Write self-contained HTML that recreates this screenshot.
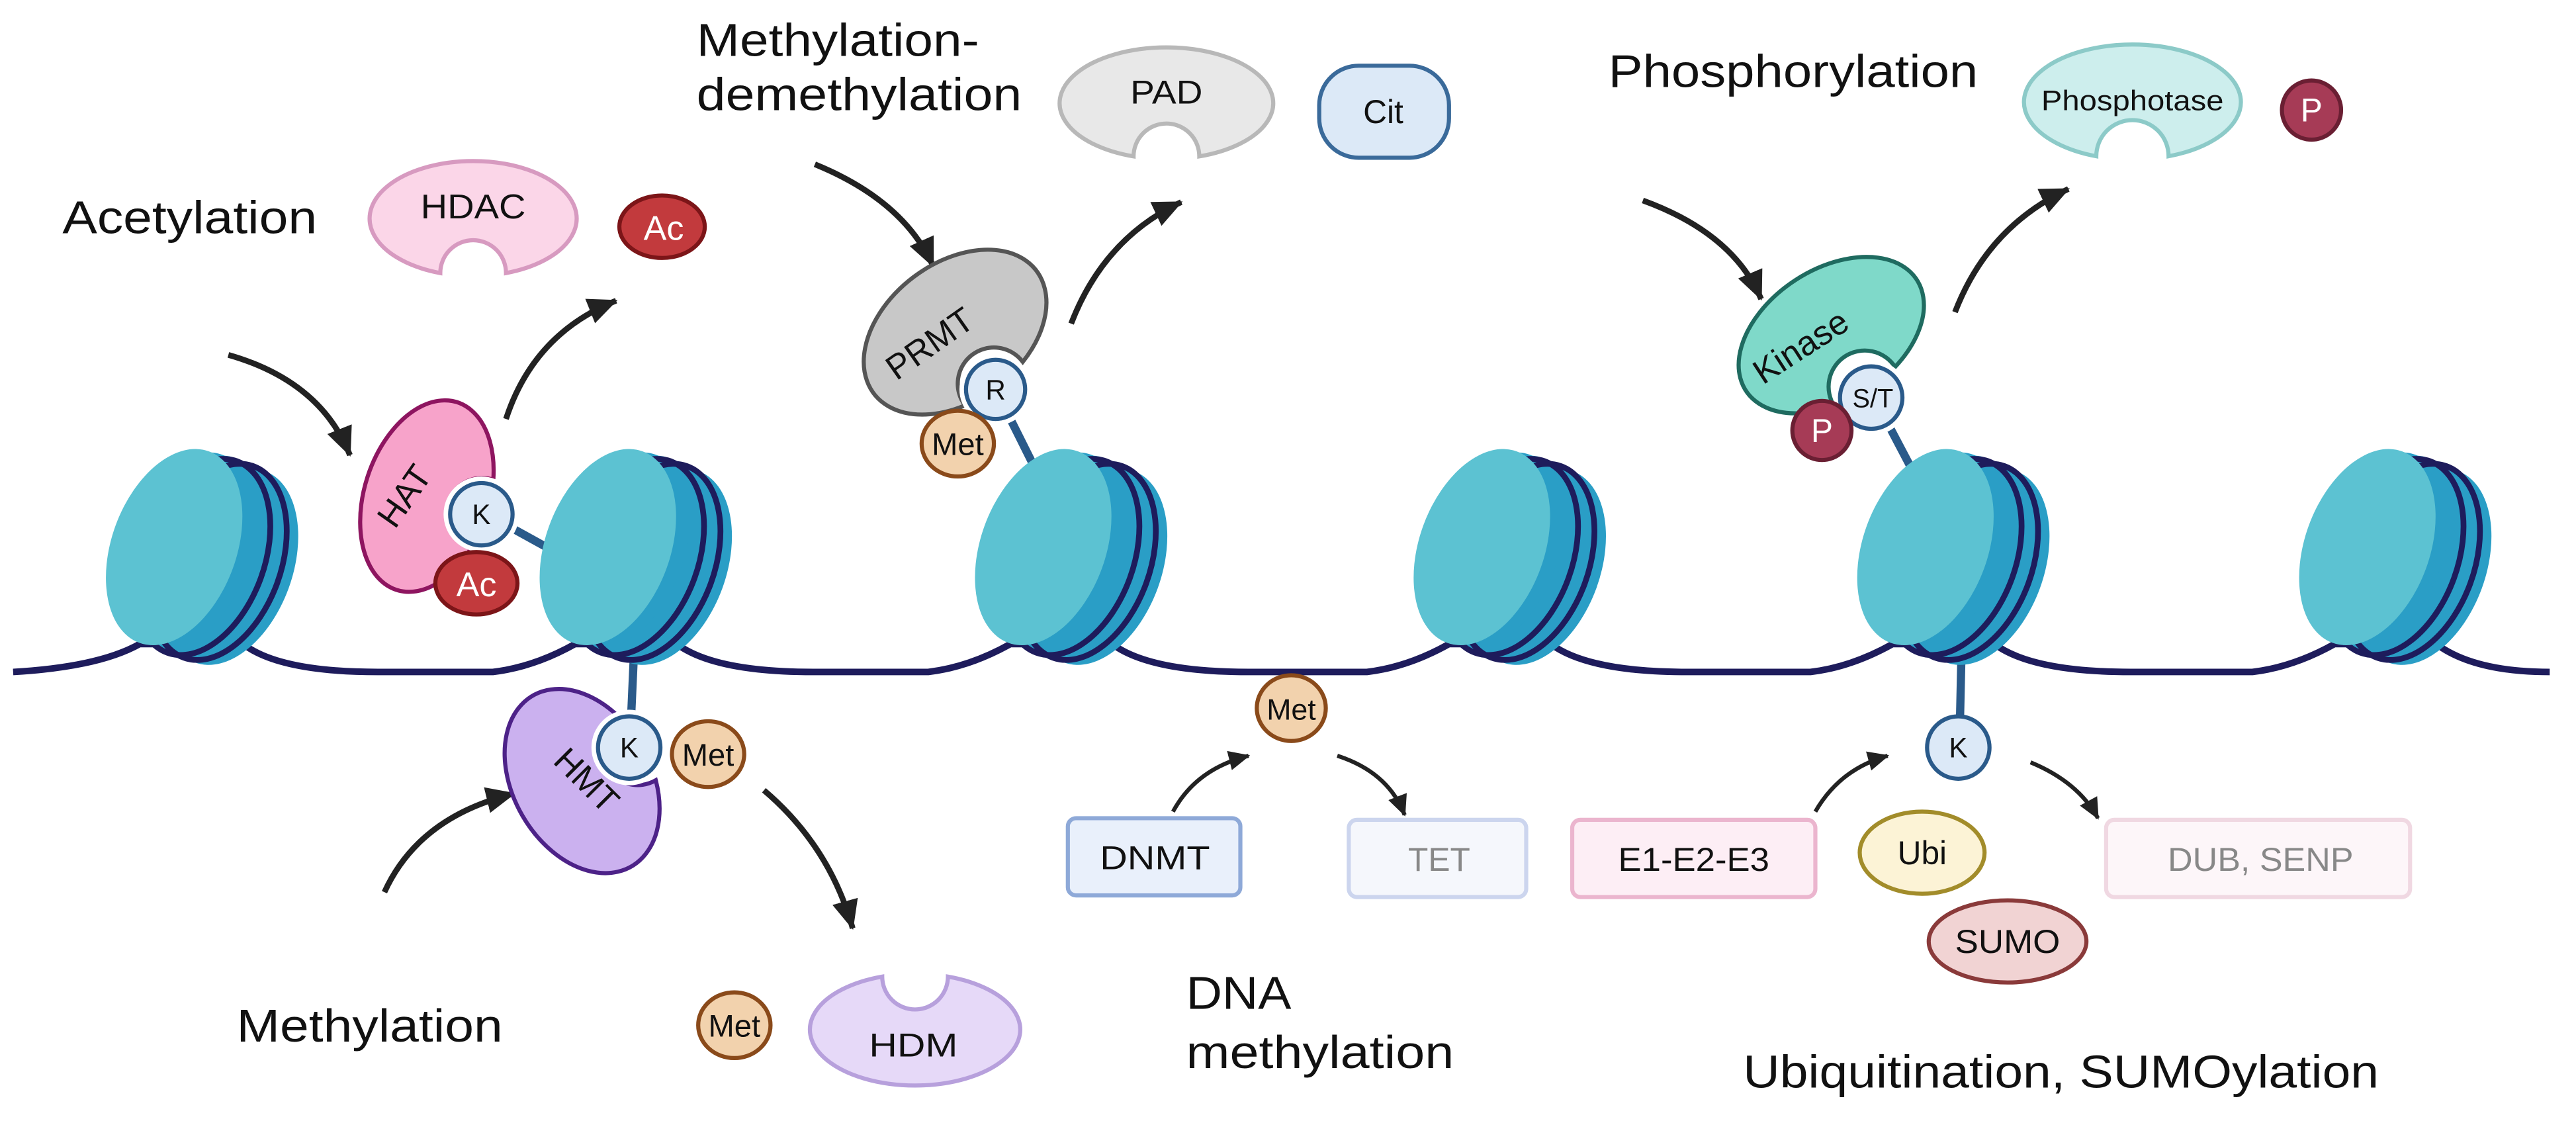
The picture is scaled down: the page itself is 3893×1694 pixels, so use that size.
<!DOCTYPE html>
<html><head><meta charset="utf-8"><style>
html,body{margin:0;padding:0;background:#fff;}
svg{display:block;}
text{font-family:"Liberation Sans",sans-serif;}
</style></head><body>
<svg width="3893" height="1694" viewBox="0 0 1568 682.3" preserveAspectRatio="none" xmlns="http://www.w3.org/2000/svg">
<defs>
<marker id="ah" markerUnits="userSpaceOnUse" markerWidth="24" markerHeight="24" refX="17" refY="8" orient="auto">
<path d="M0,0 L18,8 L0,16 Z" fill="#222"/>
</marker>
<marker id="ah2" markerUnits="userSpaceOnUse" markerWidth="16" markerHeight="16" refX="12" refY="6" orient="auto">
<path d="M0,0 L13,6 L0,12 Z" fill="#222"/>
</marker>
<g id="nuc">
<ellipse cx="18" cy="8" rx="38" ry="62" transform="rotate(20 18 8)" fill="#2a9ec6"/>
<ellipse cx="9" cy="4" rx="38" ry="62" transform="rotate(20 9 4)" fill="#2a9ec6"/>
<ellipse cx="0" cy="0" rx="38" ry="62" transform="rotate(20 0 0)" fill="#2a9ec6"/>
<ellipse cx="-8" cy="-2" rx="38" ry="62" transform="rotate(20 -8 -2)" fill="#2a9ec6"/>
<ellipse cx="1" cy="2" rx="38" ry="62" transform="rotate(20 1 2)" fill="none" stroke="#1e1c5c" stroke-width="3.5"/>
<ellipse cx="11" cy="5" rx="38" ry="62" transform="rotate(20 11 5)" fill="none" stroke="#1e1c5c" stroke-width="3.5"/>
<ellipse cx="-16" cy="-4" rx="38" ry="62" transform="rotate(20 -16 -4)" fill="#5cc2d2"/>
</g>
</defs>

<!-- DNA -->
<path d="M8,409 Q60,406 85,392 L148,392 Q170,409 230,409 L300,409 Q325,406 350,392 L412,392 Q435,409 495,409 L565,409 Q590,406 615,392 L677,392 Q700,409 760,409 L832,409 Q857,406 882,392 L944,392 Q967,409 1027,409 L1102,409 Q1127,406 1152,392 L1214,392 Q1237,409 1297,409 L1371,409 Q1396,406 1421,392 L1483,392 Q1506,409 1552,409" fill="none" stroke="#1e1c5c" stroke-width="4"/>

<!-- sticks -->
<g stroke="#2a5a8a" stroke-width="5">
<line x1="300" y1="315" x2="338" y2="336"/>
<line x1="610" y1="245" x2="630" y2="285"/>
<line x1="1145" y1="250" x2="1165" y2="288"/>
<line x1="386" y1="395" x2="384" y2="440"/>
<line x1="1194" y1="395" x2="1193" y2="440"/>
</g>

<use href="#nuc" x="122" y="337"/>
<use href="#nuc" x="386" y="337"/>
<use href="#nuc" x="651" y="337"/>
<use href="#nuc" x="918" y="337"/>
<use href="#nuc" x="1188" y="337"/>
<use href="#nuc" x="1457" y="337"/>

<!-- arrows -->
<g fill="none" stroke="#222" stroke-width="3.5" marker-end="url(#ah)">
<path d="M139,216 Q195,232 213,277"/>
<path d="M308,255 Q325,203 375,183"/>
<path d="M496,100 Q550,122 568,162"/>
<path d="M652,197 Q672,145 719,123"/>
<path d="M1000,122 Q1055,142 1072,182"/>
<path d="M1190,190 Q1210,138 1259,115"/>
<path d="M234,543 Q255,497 313,483"/>
<path d="M465,481 Q505,515 519,565"/>
</g>
<g fill="none" stroke="#222" stroke-width="2.5" marker-end="url(#ah2)">
<path d="M714,494 Q728,468 760,460"/>
<path d="M814,460 Q845,470 855,496"/>
<path d="M1105,494 Q1120,468 1149,460"/>
<path d="M1236,464 Q1265,476 1277,498"/>
</g>

<!-- titles -->
<g font-size="28" fill="#111">
<text x="38" y="142" textLength="155" lengthAdjust="spacingAndGlyphs">Acetylation</text>
<text x="424" y="34" textLength="172" lengthAdjust="spacingAndGlyphs">Methylation-</text>
<text x="424" y="67" textLength="198" lengthAdjust="spacingAndGlyphs">demethylation</text>
<text x="979" y="53" textLength="225" lengthAdjust="spacingAndGlyphs">Phosphorylation</text>
<text x="144" y="634" textLength="162" lengthAdjust="spacingAndGlyphs">Methylation</text>
<text x="722" y="614" textLength="64" lengthAdjust="spacingAndGlyphs">DNA</text>
<text x="722" y="650" textLength="163" lengthAdjust="spacingAndGlyphs">methylation</text>
<text x="1061" y="662" textLength="387" lengthAdjust="spacingAndGlyphs">Ubiquitination, SUMOylation</text>
</g>

<!-- HDAC -->
<g transform="translate(288,133)">
<path d="M-20,33.2 A63,35 0 1,1 20,33.2 A20,20 0 0,0 -20,33.2Z" fill="#fbd6e8" stroke="#d79ac0" stroke-width="2.5"/>
<text x="0" y="0" font-size="21" text-anchor="middle" fill="#111" textLength="64" lengthAdjust="spacingAndGlyphs">HDAC</text>
</g>
<ellipse cx="403" cy="138" rx="26" ry="19" fill="#c23a3d" stroke="#7c1518" stroke-width="2.5"/>
<text x="404" y="146" font-size="21" text-anchor="middle" fill="#fff">Ac</text>

<!-- HAT -->
<g transform="translate(260,302) rotate(-72)">
<path d="M-22,35.2 A60,38 0 1,1 22,35.2 A22,22 0 0,0 -22,35.2Z" fill="#f7a3ca" stroke="#8e1560" stroke-width="2.5"/>
</g>
<text x="0" y="0" font-size="21" text-anchor="middle" fill="#111" transform="translate(252,306) rotate(-55)">HAT</text>
<circle cx="293" cy="313" r="23" fill="#fff"/>
<circle cx="293" cy="313" r="19" fill="#dce9f7" stroke="#2a5a8a" stroke-width="2.5"/>
<text x="293" y="319" font-size="17" text-anchor="middle" fill="#111">K</text>
<ellipse cx="290" cy="355" rx="25" ry="19" fill="#c23a3d" stroke="#7c1518" stroke-width="2.5"/>
<text x="290" y="363" font-size="21" text-anchor="middle" fill="#fff">Ac</text>

<!-- PAD / Cit -->
<g transform="translate(710,63)">
<path d="M-20,32.2 A65,34 0 1,1 20,32.2 A20,20 0 0,0 -20,32.2Z" fill="#e8e8e8" stroke="#b8b8b8" stroke-width="2.5"/>
<text x="0" y="0" font-size="20" text-anchor="middle" fill="#111" textLength="44" lengthAdjust="spacingAndGlyphs">PAD</text>
</g>
<rect x="803" y="40" width="79" height="56" rx="24" fill="#dce9f7" stroke="#3a6a9a" stroke-width="2.5"/>
<text x="842" y="75" font-size="20" text-anchor="middle" fill="#111">Cit</text>

<!-- PRMT -->
<g transform="translate(582,203) rotate(-37)">
<path d="M-22,38.2 A62,42 0 1,1 22,38.2 A22,22 0 0,0 -22,38.2Z" fill="#c8c8c8" stroke="#555" stroke-width="2.5"/>
</g>
<text x="0" y="0" font-size="21" text-anchor="middle" fill="#111" transform="translate(570,215) rotate(-35)">PRMT</text>
<circle cx="606" cy="237" r="22" fill="#fff"/>
<circle cx="606" cy="237" r="18" fill="#dce9f7" stroke="#2a5a8a" stroke-width="2.5"/>
<text x="606" y="243" font-size="17" text-anchor="middle" fill="#111">R</text>
<ellipse cx="583" cy="270" rx="22" ry="20" fill="#f2d2ad" stroke="#8a4a1a" stroke-width="2.5"/>
<text x="583" y="277" font-size="19" text-anchor="middle" fill="#111">Met</text>

<!-- Phosphotase / P -->
<g transform="translate(1298,63)">
<path d="M-22,32.1 A66,35 0 1,1 22,32.1 A22,22 0 0,0 -22,32.1Z" fill="#cdeeed" stroke="#8ccac8" stroke-width="2.5"/>
<text x="0" y="4" font-size="17" text-anchor="middle" fill="#111" textLength="111" lengthAdjust="spacingAndGlyphs">Phosphotase</text>
</g>
<circle cx="1407" cy="67" r="18" fill="#a63b56" stroke="#6a1f33" stroke-width="2.5"/>
<text x="1407" y="74" font-size="20" text-anchor="middle" fill="#fff">P</text>

<!-- Kinase -->
<g transform="translate(1116,206) rotate(-33)">
<path d="M-22,35.0 A62,40 0 1,1 22,35.0 A22,22 0 0,0 -22,35.0Z" fill="#7fd9c9" stroke="#1f6b60" stroke-width="2.5"/>
</g>
<text x="0" y="0" font-size="21" text-anchor="middle" fill="#111" transform="translate(1100,217) rotate(-33)">Kinase</text>
<circle cx="1139" cy="242" r="23" fill="#fff"/>
<circle cx="1139" cy="242" r="19" fill="#dce9f7" stroke="#2a5a8a" stroke-width="2.5"/>
<text x="1140" y="248" font-size="16" text-anchor="middle" fill="#111">S/T</text>
<circle cx="1109" cy="262" r="18" fill="#a63b56" stroke="#6a1f33" stroke-width="2.5"/>
<text x="1109" y="269" font-size="20" text-anchor="middle" fill="#fff">P</text>

<!-- HMT -->
<g transform="translate(355,475) rotate(-120)">
<path d="M-22,38.3 A60,42 0 1,1 22,38.3 A22,22 0 0,0 -22,38.3Z" fill="#cbb1ef" stroke="#4d2288" stroke-width="2.5"/>
</g>
<text x="0" y="0" font-size="21" text-anchor="middle" fill="#111" transform="translate(352,480) rotate(45)">HMT</text>
<circle cx="383" cy="455" r="23" fill="#fff"/>
<circle cx="383" cy="455" r="19" fill="#dce9f7" stroke="#2a5a8a" stroke-width="2.5"/>
<text x="383" y="461" font-size="17" text-anchor="middle" fill="#111">K</text>
<ellipse cx="431" cy="459" rx="22" ry="20" fill="#f2d2ad" stroke="#8a4a1a" stroke-width="2.5"/>
<text x="431" y="466" font-size="19" text-anchor="middle" fill="#111">Met</text>

<!-- Met / HDM -->
<ellipse cx="447" cy="624" rx="22" ry="20" fill="#f2d2ad" stroke="#8a4a1a" stroke-width="2.5"/>
<text x="447" y="631" font-size="19" text-anchor="middle" fill="#111">Met</text>
<g transform="translate(557,626) rotate(180)">
<path d="M-20,31.6 A64,34 0 1,1 20,31.6 A20,20 0 0,0 -20,31.6Z" fill="#e6d9f8" stroke="#b7a0dc" stroke-width="2.5"/>
</g>
<text x="556" y="643" font-size="20" text-anchor="middle" fill="#111" textLength="54" lengthAdjust="spacingAndGlyphs">HDM</text>

<!-- DNA methylation -->
<ellipse cx="786" cy="431" rx="21" ry="20" fill="#f2d2ad" stroke="#8a4a1a" stroke-width="2.5"/>
<text x="786" y="438" font-size="18" text-anchor="middle" fill="#111">Met</text>
<rect x="650" y="498" width="105" height="47" rx="5" fill="#e9f0fb" stroke="#8ea9d8" stroke-width="2.5"/>
<text x="703" y="529" font-size="20" text-anchor="middle" fill="#111" textLength="67" lengthAdjust="spacingAndGlyphs">DNMT</text>
<rect x="821" y="499" width="108" height="47" rx="5" fill="#f5f7fc" stroke="#ccd5ee" stroke-width="2.5"/>
<text x="876" y="530" font-size="20" text-anchor="middle" fill="#888">TET</text>

<!-- Ubiquitination -->
<circle cx="1192" cy="455" r="19" fill="#dce9f7" stroke="#2a5a8a" stroke-width="2.5"/>
<text x="1192" y="461" font-size="17" text-anchor="middle" fill="#111">K</text>
<rect x="957" y="499" width="148" height="47" rx="5" fill="#fdeef5" stroke="#ebb5ce" stroke-width="2.5"/>
<text x="1031" y="530" font-size="20" text-anchor="middle" fill="#111" textLength="92" lengthAdjust="spacingAndGlyphs">E1-E2-E3</text>
<ellipse cx="1170" cy="519" rx="38" ry="25" fill="#fcf3d6" stroke="#a28c2a" stroke-width="2.5"/>
<text x="1170" y="526" font-size="20" text-anchor="middle" fill="#111">Ubi</text>
<ellipse cx="1222" cy="573" rx="48" ry="25" fill="#f1d3d3" stroke="#8a3a3a" stroke-width="2.5"/>
<text x="1222" y="580" font-size="20" text-anchor="middle" fill="#111" textLength="64" lengthAdjust="spacingAndGlyphs">SUMO</text>
<rect x="1282" y="499" width="185" height="47" rx="5" fill="#fdf6f9" stroke="#f0d8e2" stroke-width="2.5"/>
<text x="1376" y="530" font-size="20" text-anchor="middle" fill="#888" textLength="113" lengthAdjust="spacingAndGlyphs">DUB, SENP</text>
</svg>
</body></html>
